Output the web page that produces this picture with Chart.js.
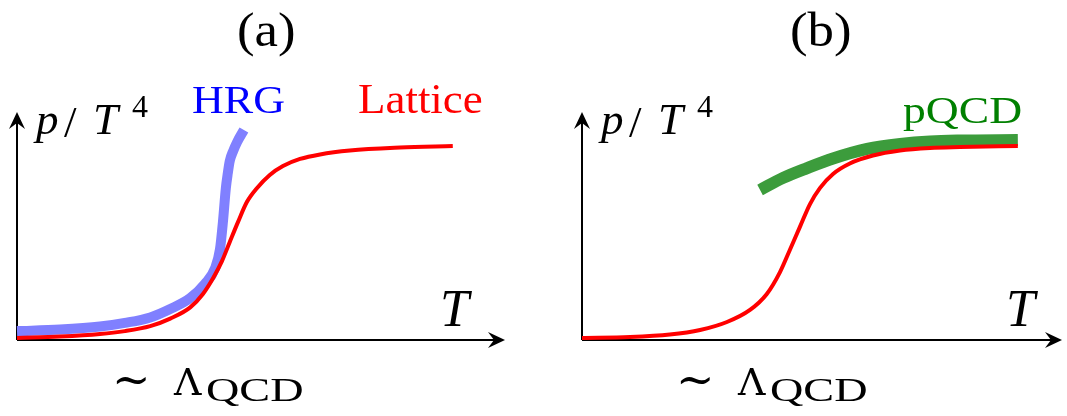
<!DOCTYPE html>
<html><head><meta charset="utf-8">
<script src="https://cdn.jsdelivr.net/npm/chart.js@4.4.1/dist/chart.umd.min.js"></script>
<style>
html,body{margin:0;padding:0;background:#fff;width:1067px;height:416px;overflow:hidden;position:relative}
.pane{position:absolute;top:0}
.t{position:absolute;white-space:nowrap;line-height:1;transform-origin:0 0;font-family:"Liberation Serif","Times New Roman",serif;color:#000}
</style></head><body>
<div class="pane" style="left:0"><canvas id="ca" width="533" height="416"></canvas></div>
<div class="pane" style="left:533px"><canvas id="cb" width="534" height="416"></canvas></div>
<script>
// ---- data (x: T in axis units 0..100, y: p/T^4 in axis units 0..100) ----
const latticeA_T = [0, 8.8, 17.0, 22.1, 27.3, 31.4, 35.5, 38.1, 40.2, 42.0, 43.6, 45.3, 47.1, 49.2, 51.8, 54.5, 58.0, 62.1, 68.2, 78.5, 89.3];
const latticeA_p = [0.9, 1.5, 2.6, 3.9, 6.1, 9.4, 14.3, 20.2, 27.2, 34.6, 43.0, 51.8, 60.5, 66.7, 72.4, 76.3, 79.4, 81.4, 83.1, 84.4, 85.1];
const hrgA_T = [0, 8.8, 17.0, 22.1, 27.3, 31.4, 35.5, 38.5, 40.6, 41.6, 42.2, 42.8, 43.2, 43.6, 44.3, 45.1, 46.5];
const hrgA_p = [3.9, 4.6, 5.9, 7.5, 9.9, 13.6, 18.4, 24.6, 31.6, 39.9, 51.8, 66.7, 73.2, 78.5, 82.9, 86.8, 92.1];
const latticeB_T = [0, 10.0, 18.3, 24.6, 30.2, 35.0, 38.5, 41.25, 43.3, 45.4, 47.5, 49.6, 52.3, 55.8, 60.6, 66.25, 72.5, 78.75, 90.8];
const latticeB_p = [0.9, 1.3, 2.4, 4.4, 7.9, 13.2, 20.2, 29.8, 39.5, 49.6, 59.6, 66.7, 72.8, 77.4, 80.9, 83.1, 84.2, 84.6, 85.1];
const pqcdB_T = [37.1, 41.9, 46.9, 52.3, 59.4, 66.3, 72.5, 78.75, 90.8];
const pqcdB_p = [65.8, 71.1, 75.4, 79.6, 83.8, 86.0, 87.1, 87.5, 87.7];
const panelTitles = ['(a)', '(b)'];
const seriesNames = ['HRG', 'Lattice', 'pQCD'];
const yLabel = ['p', '/', 'T', '4'];
const xLabel = 'T';
const scaleLabel = ['\u223C', '\u039B', 'QCD'];

const pts = (xs, ys) => xs.map((x, i) => ({x, y: ys[i]}));

// ---- text as real HTML text ----
function addText(s, left, baseline, size, o = {}) {
  const d = document.createElement('div');
  d.className = 't';
  d.textContent = s;
  const asc = o.family === 'dejavu' ? 0.846 : 0.8375;
  d.style.left = left + 'px';
  d.style.top = (baseline - asc * size) + 'px';
  d.style.fontSize = size + 'px';
  if (o.italic) d.style.fontStyle = 'italic';
  if (o.color) d.style.color = o.color;
  if (o.family === 'dejavu') d.style.fontFamily = '"DejaVu Serif",serif';
  d.style.transform = 'scaleX(' + (o.sx || 1) + ')';
  document.body.appendChild(d);
}
[0, 1].forEach(i => {
  addText(panelTitles[i], i === 0 ? 237 : 790, 46, 48, {sx: 1.1});
  const o = i === 0 ? 0 : 565;
  addText(yLabel[0], 36 + o, 135, 45, {italic: true});
  addText(yLabel[1], 64 + o, 138, 45, {});
  addText(yLabel[2], 93 + o, 135, 45, {italic: true});
  addText(yLabel[3], 132 + o, 117, 32, {});
  addText(xLabel, (i === 0 ? 440 : 1006), 327, 52, {italic: true});
  const l = i === 0 ? 0 : 564;
  addText(scaleLabel[0], 112 + l, 395, 46, {family: 'dejavu'});
  addText(scaleLabel[1], 174 + l, 395, 38, {family: 'dejavu'});
  addText(scaleLabel[2], 206 + l, 402, 33, {sx: 1.4});
});
addText(seriesNames[0], 192, 113, 39, {color: '#0000ff', sx: 1.13});
addText(seriesNames[1], 358, 113, 42, {color: '#ff0000', sx: 1.07});
addText(seriesNames[2], 903, 123, 38, {color: '#008000', sx: 1.2});

function arrow(ctx, tx, ty, ang) {
  ctx.save(); ctx.translate(tx, ty); ctx.rotate(ang);
  ctx.beginPath(); ctx.moveTo(0, 0); ctx.lineTo(-17, -8); ctx.lineTo(-11, 0); ctx.lineTo(-17, 8); ctx.closePath();
  ctx.fillStyle = '#000'; ctx.fill(); ctx.restore();
}
const axesPlugin = {
  id: 'axesArrows',
  beforeDatasetsDraw(chart) {
    const {ctx, chartArea: a} = chart;
    ctx.save(); ctx.strokeStyle = '#000'; ctx.lineWidth = 2;
    ctx.beginPath(); ctx.moveTo(a.left, a.bottom); ctx.lineTo(a.right - 8, a.bottom);
    ctx.moveTo(a.left, a.bottom); ctx.lineTo(a.left, a.top + 8); ctx.stroke();
    arrow(ctx, a.right, a.bottom, 0); arrow(ctx, a.left, a.top, -Math.PI / 2);
    ctx.restore();
  }
};
function makeChart(id, datasets, pad) {
  return new Chart(document.getElementById(id), {
    type: 'line',
    data: {datasets},
    options: {
      responsive: false, animation: false, devicePixelRatio: 1,
      layout: {padding: pad},
      plugins: {legend: {display: false}, tooltip: {enabled: false}, title: {display: false}},
      elements: {point: {radius: 0}, line: {cubicInterpolationMode: 'monotone', borderCapStyle: 'butt', borderJoinStyle: 'round', fill: false}},
      scales: {
        x: {type: 'linear', min: 0, max: 100, display: false},
        y: {type: 'linear', min: 0, max: 100, display: false}
      }
    },
    plugins: [axesPlugin]
  });
}
makeChart('ca', [
  {label: seriesNames[1], data: pts(latticeA_T, latticeA_p), borderColor: '#ff0000', borderWidth: 4, clip: false, order: 1},
  {label: seriesNames[0], data: pts(hrgA_T, hrgA_p), borderColor: '#8080ff', borderWidth: 10, clip: false, order: 2}
], {left: 17, right: 28, top: 112, bottom: 76});
makeChart('cb', [
  {label: seriesNames[1], data: pts(latticeB_T, latticeB_p), borderColor: '#ff0000', borderWidth: 4, clip: false, order: 1},
  {label: seriesNames[2], data: pts(pqcdB_T, pqcdB_p), borderColor: '#3c9c3c', borderWidth: 12, clip: false, order: 2}
], {left: 49, right: 5, top: 112, bottom: 76});
</script>
</body></html>
